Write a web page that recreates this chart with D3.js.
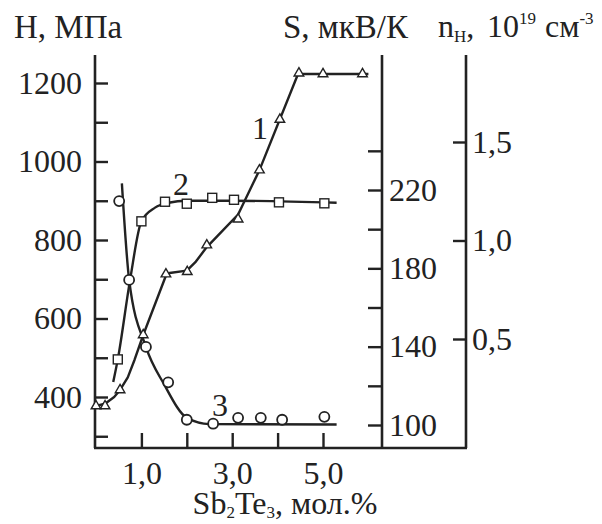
<!DOCTYPE html>
<html>
<head>
<meta charset="utf-8">
<script src="https://cdn.jsdelivr.net/npm/d3@7"></script>
<style>
  body { margin: 0; background: #fff; }
  svg text { font-family: "Liberation Serif", "Times New Roman", "DejaVu Serif", serif; fill: #222; }
</style>
</head>
<body>
<div id="chart"></div>
<script>
const WIDTH = 602;
const HEIGHT = 524;
const FONT = 32;
const SMALL = 17;
const SERIF = "'Liberation Serif', 'Times New Roman', 'DejaVu Serif', serif";

// curve 1: microhardness H, MPa (triangles)
const hComp = [0, 0.2, 0.53, 1.04, 1.54, 2.01, 2.44, 3.13, 3.6, 4.05, 4.47, 5.0, 5.87];
const hVals = [377, 377, 418, 558, 713, 719, 787, 853, 978, 1107, 1225, 1223, 1223];
const hFitComp = [0, 0.2, 0.4, 0.53, 0.7, 0.85, 1.04, 1.55, 1.62, 2.0, 2.2, 2.44, 2.8, 3.13, 3.6, 4.45, 6.0];
const hFitVals = [377, 383, 400, 418, 450, 495, 558, 712, 716, 722, 745, 782, 825, 865, 978, 1223, 1223];

// curve 2: Seebeck coefficient S, мкВ/К (squares)
const sComp = [0.48, 1.0, 1.52, 2.0, 2.56, 3.04, 4.03, 5.03];
const sVals = [133.5, 204, 214, 213, 216, 215, 213.7, 213.2];
const sFitComp = [0.38, 0.48, 0.75, 1.0, 1.3, 1.6, 2.0, 3.0, 5.3];
const sFitVals = [122, 133.5, 174, 204, 211, 213.5, 214.5, 214.5, 213.5];

// curve 3: Hall concentration n, 10^19 см^-3 (circles)
const nComp = [0.51, 0.73, 1.1, 1.59, 2.0, 2.58, 3.13, 3.63, 4.1, 5.03];
const nVals = [1.2, 0.8, 0.46, 0.28, 0.09, 0.07, 0.1, 0.1, 0.09, 0.105];
const nFitComp = [0.57, 0.73, 1.1, 1.5, 2.0, 2.5, 5.3];
const nFitVals = [1.29, 0.8, 0.46, 0.27, 0.1, 0.068, 0.066];

const xTicks = [1, 2, 3, 4, 5];
const xLabels = [1, 3, 5];
const hTicks = [300, 400, 500, 600, 700, 800, 900, 1000, 1100, 1200];
const hLabels = [400, 600, 800, 1000, 1200];
const sTicks = [100, 120, 140, 160, 180, 200, 220, 240];
const sLabels = [100, 140, 180, 220];
const nTicks = [0.5, 1.0, 1.5];

const LEFT_X = 95, S_X = 382, N_X = 466, BOTTOM_Y = 448, TOP_Y = 55;

const x = d3.scaleLinear().domain([0, 5]).range([96, 323]);
const yH = d3.scaleLinear().domain([400, 1200]).range([397, 83]);
const yS = d3.scaleLinear().domain([100, 220]).range([425, 190]);
const yN = d3.scaleLinear().domain([0.5, 1.5]).range([339, 142]);

const comma = (d) => d3.format(".1f")(d).replace(".", ",");

const svg = d3.select("#chart").append("svg")
  .attr("width", WIDTH)
  .attr("height", HEIGHT)
  .attr("font-family", SERIF);

// frame lines
const frame = [
  [LEFT_X, TOP_Y, LEFT_X, BOTTOM_Y],
  [LEFT_X - 1, BOTTOM_Y, N_X + 1, BOTTOM_Y],
  [S_X, TOP_Y, S_X, BOTTOM_Y],
  [N_X, TOP_Y, N_X, BOTTOM_Y]
];
svg.selectAll("line.frame")
  .data(frame)
  .enter()
  .append("line")
  .attr("class", "frame")
  .attr("x1", (d) => d[0]).attr("y1", (d) => d[1])
  .attr("x2", (d) => d[2]).attr("y2", (d) => d[3])
  .attr("stroke", "#222")
  .attr("stroke-width", 2.6);

function styleAxis(g) {
  g.attr("font-family", SERIF);
  g.select(".domain").remove();
  g.selectAll(".tick line").attr("stroke", "#222").attr("stroke-width", 2.4);
  g.selectAll(".tick text").attr("font-size", FONT + "px")
    .attr("font-family", SERIF).attr("fill", "#222");
}

// left H axis
svg.append("g")
  .attr("transform", "translate(" + LEFT_X + ",0)")
  .call(d3.axisLeft(yH).tickValues(hTicks).tickSizeInner(-13).tickSizeOuter(0).tickPadding(13)
    .tickFormat((d) => hLabels.includes(d) ? d : ""))
  .call(styleAxis);

// S axis
svg.append("g")
  .attr("transform", "translate(" + S_X + ",0)")
  .call(d3.axisRight(yS).tickValues(sTicks).tickSizeInner(-14).tickSizeOuter(0).tickPadding(7)
    .tickFormat((d) => sLabels.includes(d) ? d : ""))
  .call(styleAxis);

// n axis
svg.append("g")
  .attr("transform", "translate(" + N_X + ",0)")
  .call(d3.axisRight(yN).tickValues(nTicks).tickSizeInner(-13).tickSizeOuter(0).tickPadding(6)
    .tickFormat(comma))
  .call(styleAxis);

// bottom axis
svg.append("g")
  .attr("transform", "translate(0," + BOTTOM_Y + ")")
  .call(d3.axisBottom(x).tickValues(xTicks).tickSizeInner(-15).tickSizeOuter(0).tickPadding(13)
    .tickFormat((d) => xLabels.includes(d) ? comma(d) : ""))
  .call(styleAxis);

// curves
const lineH = d3.line().x((d) => x(d[0])).y((d) => yH(d[1])).curve(d3.curveLinear);
const lineS = d3.line().x((d) => x(d[0])).y((d) => yS(d[1])).curve(d3.curveMonotoneX);
const lineN = d3.line().x((d) => x(d[0])).y((d) => yN(d[1])).curve(d3.curveMonotoneX);

svg.append("path").datum(d3.zip(hFitComp, hFitVals))
  .attr("d", lineH).attr("fill", "none").attr("stroke", "#222").attr("stroke-width", 2.4)
  .attr("stroke-linejoin", "round");
svg.append("path").datum(d3.zip(sFitComp, sFitVals))
  .attr("d", lineS).attr("fill", "none").attr("stroke", "#222").attr("stroke-width", 2.4);
svg.append("path").datum(d3.zip(nFitComp, nFitVals))
  .attr("d", lineN).attr("fill", "none").attr("stroke", "#222").attr("stroke-width", 2.4);

// markers
svg.selectAll("path.tri")
  .data(d3.zip(hComp, hVals))
  .enter()
  .append("path")
  .attr("class", "tri")
  .attr("d", d3.symbol().type(d3.symbolTriangle).size(40))
  .attr("transform", (d) => "translate(" + x(d[0]) + "," + yH(d[1]) + ")")
  .attr("fill", "#fff").attr("stroke", "#222").attr("stroke-width", 1.4);

svg.selectAll("rect.sq")
  .data(d3.zip(sComp, sVals))
  .enter()
  .append("rect")
  .attr("class", "sq")
  .attr("x", (d) => x(d[0]) - 4.5).attr("y", (d) => yS(d[1]) - 4.5)
  .attr("width", 9).attr("height", 9)
  .attr("fill", "#fff").attr("stroke", "#222").attr("stroke-width", 1.4);

svg.selectAll("circle.ci")
  .data(d3.zip(nComp, nVals))
  .enter()
  .append("circle")
  .attr("class", "ci")
  .attr("cx", (d) => x(d[0])).attr("cy", (d) => yN(d[1]))
  .attr("r", 5)
  .attr("fill", "#fff").attr("stroke", "#222").attr("stroke-width", 1.8);

// curve numbers
const nums = [["1", 260, 139], ["2", 181, 195], ["3", 220, 416]];
svg.selectAll("text.num")
  .data(nums)
  .enter()
  .append("text")
  .attr("class", "num")
  .attr("x", (d) => d[1]).attr("y", (d) => d[2])
  .attr("text-anchor", "middle")
  .attr("font-size", FONT + "px")
  .text((d) => d[0]);

// axis titles
svg.append("text").attr("x", 14).attr("y", 38).attr("font-size", "33px").text("H, МПа");
svg.append("text").attr("x", 283).attr("y", 38).attr("font-size", "33px").text("S, мкВ/К");

const nTitle = svg.append("text").attr("x", 438).attr("y", 37).attr("font-size", FONT + "px");
nTitle.append("tspan").text("n");
nTitle.append("tspan").attr("font-size", SMALL + "px").attr("dy", 5).text("Н");
nTitle.append("tspan").attr("dy", -5).text(",");
nTitle.append("tspan").attr("x", 487).text("10");
nTitle.append("tspan").attr("font-size", SMALL + "px").attr("dy", -13).text("19");
nTitle.append("tspan").attr("x", 545).attr("dy", 13).text("см");
nTitle.append("tspan").attr("font-size", SMALL + "px").attr("dy", -13).text("-3");

const xTitle = svg.append("text").attr("x", 285).attr("y", 514)
  .attr("text-anchor", "middle").attr("font-size", FONT + "px");
xTitle.append("tspan").text("Sb");
xTitle.append("tspan").attr("font-size", SMALL + "px").attr("dy", 4).text("2");
xTitle.append("tspan").attr("dy", -4).text("Te");
xTitle.append("tspan").attr("font-size", SMALL + "px").attr("dy", 4).text("3");
xTitle.append("tspan").attr("dy", -4).text(", мол.%");
</script>
</body>
</html>
